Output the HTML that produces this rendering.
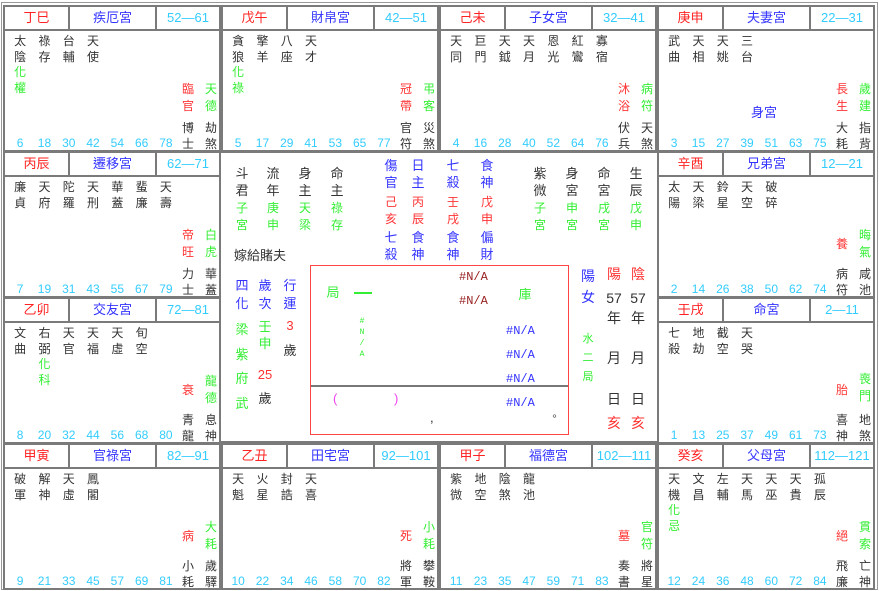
<!DOCTYPE html>
<html><head><meta charset="utf-8"><style>
*{margin:0;padding:0;box-sizing:border-box}
body{width:879px;height:591px;background:#fff;position:relative;overflow:hidden;font-family:"Liberation Sans","Noto Sans CJK TC","WenQuanYi Zen Hei",sans-serif;color:#333}
.frame{position:absolute;left:1px;top:2px;width:877px;height:588px;border:1px solid #999}
.c{position:absolute;width:218px;height:147px;border:2px solid #7a7a7a;background:#fff}
.h{position:absolute;left:0;top:0;right:0;height:24px;border-bottom:2px solid #7a7a7a;display:flex;font-size:13px;line-height:22px;text-align:center}
.h span:nth-child(1){width:63px;color:#f22}
.h span:nth-child(2){width:89px;color:#33f;border-left:2px solid #7a7a7a;border-right:2px solid #7a7a7a}
.h span:nth-child(3){flex:1;color:#3cf}
.s{position:absolute;left:3px;top:27px;display:flex;font-size:12px;line-height:15.5px}
.s div{width:24.3px;text-align:center}
.g{color:#3e3}
.n{position:absolute;left:3px;top:129px;display:flex;font-size:12px;line-height:14px;color:#3cf}
.n div{width:24.3px;text-align:center}
.r,.q,.b1,.b2{position:absolute;width:14px;text-align:center;font-size:12px;line-height:16.5px}
.r{left:176px;top:74px;color:#f33}
.r.one{top:83px}
.q{left:199px;top:74px;color:#3e3}
.b1{left:176px;top:113px;line-height:16px}
.b2{left:199px;top:113px;line-height:16px}
.t{position:absolute;width:14px;text-align:center;font-size:13px;line-height:16px}
.bl{color:#33f}.rd{color:#f33}.gr{color:#3e3}.dk{color:#333}
</style></head><body>
<div class="frame"></div>

<!-- Row 1 -->
<div class="c" style="left:3px;top:5px"><div class="h"><span>丁巳</span><span>疾厄宮</span><span>52—61</span></div>
<div class="s"><div>太<br>陰<br><span class="g">化<br>權</span></div><div>祿<br>存</div><div>台<br>輔</div><div>天<br>使</div></div>
<div class="r">臨<br>官</div><div class="q">天<br>德</div><div class="b1">博<br>士</div><div class="b2">劫<br>煞</div>
<div class="n"><div>6</div><div>18</div><div>30</div><div>42</div><div>54</div><div>66</div><div>78</div></div></div>

<div class="c" style="left:221px;top:5px"><div class="h"><span>戊午</span><span>財帛宮</span><span>42—51</span></div>
<div class="s"><div>貪<br>狼<br><span class="g">化<br>祿</span></div><div>擎<br>羊</div><div>八<br>座</div><div>天<br>才</div></div>
<div class="r">冠<br>帶</div><div class="q">弔<br>客</div><div class="b1">官<br>符</div><div class="b2">災<br>煞</div>
<div class="n"><div>5</div><div>17</div><div>29</div><div>41</div><div>53</div><div>65</div><div>77</div></div></div>

<div class="c" style="left:439px;top:5px"><div class="h"><span>己未</span><span>子女宮</span><span>32—41</span></div>
<div class="s"><div>天<br>同</div><div>巨<br>門</div><div>天<br>鉞</div><div>天<br>月</div><div>恩<br>光</div><div>紅<br>鸞</div><div>寡<br>宿</div></div>
<div class="r">沐<br>浴</div><div class="q">病<br>符</div><div class="b1">伏<br>兵</div><div class="b2">天<br>煞</div>
<div class="n"><div>4</div><div>16</div><div>28</div><div>40</div><div>52</div><div>64</div><div>76</div></div></div>

<div class="c" style="left:657px;top:5px"><div class="h"><span>庚申</span><span>夫妻宮</span><span>22—31</span></div>
<div class="s"><div>武<br>曲</div><div>天<br>相</div><div>天<br>姚</div><div>三<br>台</div></div>
<div style="position:absolute;left:92px;top:95px;font-size:13px;color:#33f">身宮</div>
<div class="r">長<br>生</div><div class="q">歲<br>建</div><div class="b1">大<br>耗</div><div class="b2">指<br>背</div>
<div class="n"><div>3</div><div>15</div><div>27</div><div>39</div><div>51</div><div>63</div><div>75</div></div></div>

<!-- Row 2 -->
<div class="c" style="left:3px;top:151px"><div class="h"><span>丙辰</span><span>遷移宮</span><span>62—71</span></div>
<div class="s"><div>廉<br>貞</div><div>天<br>府</div><div>陀<br>羅</div><div>天<br>刑</div><div>華<br>蓋</div><div>蜚<br>廉</div><div>天<br>壽</div></div>
<div class="r">帝<br>旺</div><div class="q">白<br>虎</div><div class="b1">力<br>士</div><div class="b2">華<br>蓋</div>
<div class="n"><div>7</div><div>19</div><div>31</div><div>43</div><div>55</div><div>67</div><div>79</div></div></div>

<div class="c" style="left:657px;top:151px"><div class="h"><span>辛酉</span><span>兄弟宮</span><span>12—21</span></div>
<div class="s"><div>太<br>陽</div><div>天<br>梁</div><div>鈴<br>星</div><div>天<br>空</div><div>破<br>碎</div></div>
<div class="r one">養</div><div class="q">晦<br>氣</div><div class="b1">病<br>符</div><div class="b2">咸<br>池</div>
<div class="n"><div>2</div><div>14</div><div>26</div><div>38</div><div>50</div><div>62</div><div>74</div></div></div>

<!-- Row 3 -->
<div class="c" style="left:3px;top:297px"><div class="h"><span>乙卯</span><span>交友宮</span><span>72—81</span></div>
<div class="s"><div>文<br>曲</div><div>右<br>弼<br><span class="g">化<br>科</span></div><div>天<br>官</div><div>天<br>福</div><div>天<br>虛</div><div>旬<br>空</div></div>
<div class="r one">衰</div><div class="q">龍<br>德</div><div class="b1">青<br>龍</div><div class="b2">息<br>神</div>
<div class="n"><div>8</div><div>20</div><div>32</div><div>44</div><div>56</div><div>68</div><div>80</div></div></div>

<div class="c" style="left:657px;top:297px"><div class="h"><span>壬戌</span><span>命宮</span><span>2—11</span></div>
<div class="s"><div>七<br>殺</div><div>地<br>劫</div><div>截<br>空</div><div>天<br>哭</div></div>
<div class="r one">胎</div><div class="q" style="top:72px">喪<br>門</div><div class="b1">喜<br>神</div><div class="b2">地<br>煞</div>
<div class="n"><div>1</div><div>13</div><div>25</div><div>37</div><div>49</div><div>61</div><div>73</div></div></div>

<!-- Row 4 -->
<div class="c" style="left:3px;top:443px"><div class="h"><span>甲寅</span><span>官祿宮</span><span>82—91</span></div>
<div class="s"><div>破<br>軍</div><div>解<br>神</div><div>天<br>虛</div><div>鳳<br>閣</div></div>
<div class="r one">病</div><div class="q">大<br>耗</div><div class="b1">小<br>耗</div><div class="b2">歲<br>驛</div>
<div class="n"><div>9</div><div>21</div><div>33</div><div>45</div><div>57</div><div>69</div><div>81</div></div></div>

<div class="c" style="left:221px;top:443px"><div class="h"><span>乙丑</span><span>田宅宮</span><span>92—101</span></div>
<div class="s"><div>天<br>魁</div><div>火<br>星</div><div>封<br>誥</div><div>天<br>喜</div></div>
<div class="r one">死</div><div class="q">小<br>耗</div><div class="b1">將<br>軍</div><div class="b2">攀<br>鞍</div>
<div class="n"><div>10</div><div>22</div><div>34</div><div>46</div><div>58</div><div>70</div><div>82</div></div></div>

<div class="c" style="left:439px;top:443px"><div class="h"><span>甲子</span><span>福德宮</span><span>102—111</span></div>
<div class="s"><div>紫<br>微</div><div>地<br>空</div><div>陰<br>煞</div><div>龍<br>池</div></div>
<div class="r one">墓</div><div class="q">官<br>符</div><div class="b1">奏<br>書</div><div class="b2">將<br>星</div>
<div class="n"><div>11</div><div>23</div><div>35</div><div>47</div><div>59</div><div>71</div><div>83</div></div></div>

<div class="c" style="left:657px;top:443px"><div class="h"><span>癸亥</span><span>父母宮</span><span>112—121</span></div>
<div class="s"><div>天<br>機<br><span class="g">化<br>忌</span></div><div>文<br>昌</div><div>左<br>輔</div><div>天<br>馬</div><div>天<br>巫</div><div>天<br>貴</div><div>孤<br>辰</div></div>
<div class="r one">絕</div><div class="q">貫<br>索</div><div class="b1">飛<br>廉</div><div class="b2">亡<br>神</div>
<div class="n"><div>12</div><div>24</div><div>36</div><div>48</div><div>60</div><div>72</div><div>84</div></div></div>

<!-- Center -->
<div style="position:absolute;left:221px;top:151px;width:436px;height:292px;border:2px solid #7a7a7a;border-left:none;border-right:none"></div>

<div class="t dk" style="left:235px;top:165px;line-height:17px">斗<br>君</div>
<div class="t dk" style="left:266px;top:165px;line-height:17px">流<br>年</div>
<div class="t dk" style="left:298px;top:165px;line-height:17px">身<br>主</div>
<div class="t dk" style="left:330px;top:165px;line-height:17px">命<br>主</div>
<div class="t gr" style="left:235px;top:200px;font-size:12px;line-height:17px">子<br>宮</div>
<div class="t gr" style="left:266px;top:200px;font-size:12px;line-height:17px">庚<br>申</div>
<div class="t gr" style="left:298px;top:200px;font-size:12px;line-height:17px">天<br>梁</div>
<div class="t gr" style="left:330px;top:200px;font-size:12px;line-height:17px">祿<br>存</div>

<div class="t bl" style="left:384px;top:157px;line-height:17px">傷<br>官</div>
<div class="t bl" style="left:411px;top:157px;line-height:17px">日<br>主</div>
<div class="t bl" style="left:446px;top:157px;line-height:17px">七<br>殺</div>
<div class="t bl" style="left:480px;top:157px;line-height:17px">食<br>神</div>
<div class="t rd" style="left:384px;top:194px;font-size:12px;line-height:17px">己<br>亥</div>
<div class="t rd" style="left:411px;top:194px;font-size:12px;line-height:17px">丙<br>辰</div>
<div class="t rd" style="left:446px;top:194px;font-size:12px;line-height:17px">壬<br>戌</div>
<div class="t rd" style="left:480px;top:194px;font-size:12px;line-height:17px">戊<br>申</div>
<div class="t bl" style="left:384px;top:229px;line-height:17px">七<br>殺</div>
<div class="t bl" style="left:411px;top:229px;line-height:17px">食<br>神</div>
<div class="t bl" style="left:446px;top:229px;line-height:17px">食<br>神</div>
<div class="t bl" style="left:480px;top:229px;line-height:17px">偏<br>財</div>

<div class="t dk" style="left:533px;top:165px;line-height:17px">紫<br>微</div>
<div class="t dk" style="left:565px;top:165px;line-height:17px">身<br>宮</div>
<div class="t dk" style="left:597px;top:165px;line-height:17px">命<br>宮</div>
<div class="t dk" style="left:629px;top:165px;line-height:17px">生<br>辰</div>
<div class="t gr" style="left:533px;top:200px;font-size:12px;line-height:17px">子<br>宮</div>
<div class="t gr" style="left:565px;top:200px;font-size:12px;line-height:17px">申<br>宮</div>
<div class="t gr" style="left:597px;top:200px;font-size:12px;line-height:17px">戌<br>宮</div>
<div class="t gr" style="left:629px;top:200px;font-size:12px;line-height:17px">戊<br>申</div>

<div style="position:absolute;left:234px;top:245px;font-size:13px;color:#333">嫁給賭夫</div>

<div class="t bl" style="left:235px;top:277px;line-height:18px">四<br>化</div>
<div class="t bl" style="left:258px;top:277px;line-height:18px">歲<br>次</div>
<div class="t bl" style="left:283px;top:277px;line-height:18px">行<br>運</div>
<div class="t gr" style="left:235px;top:318px;line-height:24.5px">梁<br>紫<br>府<br>武</div>
<div class="t gr" style="left:258px;top:318px;line-height:17px">壬<br>申</div>
<div class="t rd" style="left:253px;top:367px;width:24px">25</div>
<div class="t dk" style="left:258px;top:391px">歲</div>
<div class="t rd" style="left:283px;top:318px">3</div>
<div class="t dk" style="left:283px;top:343px">歲</div>

<div style="position:absolute;left:310px;top:265px;width:259px;height:170px;border:1px solid #f44"></div>
<div style="position:absolute;left:311px;top:385px;width:257px;height:2px;background:#777"></div>
<div style="position:absolute;left:459px;top:270px;font-size:12px;color:#922;font-family:'Liberation Mono',monospace">#N/A</div>
<div style="position:absolute;left:459px;top:294px;font-size:12px;color:#922;font-family:'Liberation Mono',monospace">#N/A</div>
<div class="t gr" style="left:326px;top:285px">局</div>
<div style="position:absolute;left:354px;top:292px;width:18px;height:2px;background:#3e3"></div>
<div class="t gr" style="left:518px;top:287px">庫</div>
<div style="position:absolute;left:358px;top:316px;width:8px;font-size:8px;line-height:11px;color:#3e3;text-align:center;font-family:'Liberation Mono',monospace">#<br>N<br>/<br>A</div>
<div style="position:absolute;left:506px;top:319px;font-size:12px;line-height:24px;color:#33f;font-family:'Liberation Mono',monospace">#N/A<br>#N/A<br>#N/A<br>#N/A</div>
<div style="position:absolute;left:333px;top:391px;font-size:13px;color:#e4e">(</div>
<div style="position:absolute;left:394px;top:391px;font-size:13px;color:#e4e">)</div>
<div style="position:absolute;left:430px;top:410px;font-size:13px;color:#333">,</div>
<div style="position:absolute;left:549px;top:408px;font-size:11px;color:#333">。</div>

<div class="t bl" style="left:581px;top:266px;font-size:14px;line-height:21px">陽<br>女</div>
<div class="t gr" style="left:582px;top:330px;font-size:11px;line-height:19px;width:12px">水<br>二<br>局</div>
<div class="t rd" style="left:607px;top:266px;font-size:14px">陽</div>
<div class="t rd" style="left:631px;top:266px;font-size:14px">陰</div>
<div class="t dk" style="left:604px;top:290px;width:20px;font-size:14px">57</div>
<div class="t dk" style="left:628px;top:290px;width:20px;font-size:14px">57</div>
<div class="t dk" style="left:607px;top:310px;font-size:14px">年</div>
<div class="t dk" style="left:631px;top:310px;font-size:14px">年</div>
<div class="t dk" style="left:607px;top:350px;font-size:14px">月</div>
<div class="t dk" style="left:631px;top:350px;font-size:14px">月</div>
<div class="t dk" style="left:607px;top:391px;font-size:14px">日</div>
<div class="t dk" style="left:631px;top:391px;font-size:14px">日</div>
<div class="t rd" style="left:607px;top:415px;font-size:14px">亥</div>
<div class="t rd" style="left:631px;top:415px;font-size:14px">亥</div>
</body></html>
